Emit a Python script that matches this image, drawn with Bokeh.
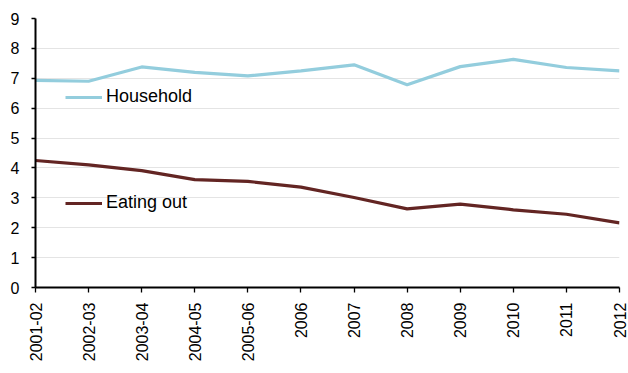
from bokeh.plotting import figure
from bokeh.models import (ColumnDataSource, FixedTicker, Range1d, Legend,
                          LegendItem)
from bokeh.embed import file_html
from bokeh.resources import INLINE
import math

# Periods on the x axis
periods = ["2001-02", "2002-03", "2003-04", "2004-05", "2005-06", "2006",
           "2007", "2008", "2009", "2010", "2011", "2012"]

# Series values
household = [6.93, 6.90, 7.38, 7.20, 7.08, 7.25, 7.45, 6.78, 7.39, 7.63, 7.36, 7.25]
eating_out = [4.25, 4.10, 3.91, 3.61, 3.55, 3.36, 3.01, 2.63, 2.79, 2.60, 2.45, 2.16]

y_ticks = list(range(0, 10))

xs = list(range(len(periods)))
src = ColumnDataSource(dict(x=xs, household=household, eating_out=eating_out))

FONT = "Liberation Sans"

p = figure(width=628, height=373, output_backend="svg", toolbar_location=None,
           x_range=Range1d(0, len(periods) - 1), y_range=Range1d(0, 9),
           min_border_left=35, min_border_right=9, min_border_top=18,
           min_border_bottom=86)
p.outline_line_color = None
p.background_fill_color = "white"
p.border_fill_color = "white"

hh = p.line("x", "household", source=src, line_color="#93CDDD", line_width=3.2)
eo = p.line("x", "eating_out", source=src, line_color="#632523", line_width=3.2)

# Axes
p.xaxis.ticker = FixedTicker(ticks=xs)
p.xaxis.major_label_overrides = {i: lab for i, lab in enumerate(periods)}
p.xaxis.major_label_orientation = math.pi / 2
p.yaxis.ticker = FixedTicker(ticks=y_ticks)

for ax in (p.xaxis, p.yaxis):
    ax.axis_line_color = "black"
    ax.axis_line_width = 2
    ax.major_tick_line_color = "black"
    ax.major_tick_line_width = 1.3
    ax.major_tick_in = 0
    ax.minor_tick_line_color = None
    ax.major_label_text_font = FONT
    ax.major_label_text_font_size = "16px"
    ax.major_label_text_color = "black"

p.xaxis.major_tick_out = 5
p.xaxis.major_label_standoff = 10
p.yaxis.major_tick_out = 4
p.yaxis.major_label_standoff = 12

p.xgrid.grid_line_color = None
p.ygrid.grid_line_color = "#e4e4e4"
p.ygrid.grid_line_width = 1

# Inline series labels
def inline_label(renderer, name, loc):
    lg = Legend(items=[LegendItem(label=name, renderers=[renderer])],
                location=loc, orientation="vertical")
    lg.border_line_color = None
    lg.background_fill_alpha = 0
    lg.padding = 0
    lg.margin = 0
    lg.glyph_width = 37
    lg.glyph_height = 20
    lg.label_standoff = 4
    lg.label_text_font = FONT
    lg.label_text_font_size = "18px"
    lg.label_text_color = "black"
    lg.label_height = 20
    p.add_layout(lg, "center")

inline_label(hh, "Household", (30, 180))
inline_label(eo, "Eating out", (30, 74))

open("out.html", "w").write(file_html(p, INLINE))
